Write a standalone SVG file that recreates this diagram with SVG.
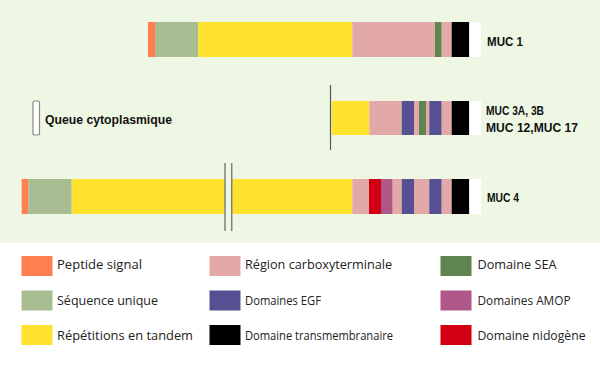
<svg xmlns="http://www.w3.org/2000/svg" width="600" height="366" viewBox="0 0 600 366">
<style>
.ps{fill:#FF7F4E}.su{fill:#A9BD93}.rt{fill:#FFE22E}.rc{fill:#E3A9A9}.sea{fill:#5F844F}.egf{fill:#545091}.amop{fill:#B0578A}.tm{fill:#000}.nid{fill:#D20012}.wh{fill:#FFFFFF}
.lbl{font-family:"Liberation Sans","Open Sans",sans-serif;font-weight:700;font-size:12px;fill:#111}
.leg{font-family:"Open Sans","Liberation Sans",sans-serif;font-size:13px;fill:#222}
.brk{stroke:#808080;stroke-width:1.5;fill:none}
</style>
<rect x="0" y="0" width="600" height="243" fill="#EEF7E3"/>
<rect x="0" y="243" width="600" height="123" fill="#FFFFFF"/>

<g id="muc1">
<rect class="ps" x="148" y="22" width="7" height="35"/>
<rect class="su" x="155" y="22" width="43.3" height="35"/>
<rect class="rt" x="198.3" y="22" width="154" height="35"/>
<rect class="rc" x="352.3" y="22" width="82.7" height="35"/>
<rect class="sea" x="435" y="22" width="6.7" height="35"/>
<rect class="rc" x="441.7" y="22" width="10" height="35"/>
<rect class="tm" x="451.7" y="22" width="17.6" height="35"/>
<rect class="wh" x="469.3" y="22" width="11.7" height="35"/>
<text class="lbl" x="487" y="46" textLength="36" lengthAdjust="spacingAndGlyphs">MUC 1</text>
</g>

<g id="queue">
<rect x="33" y="101" width="6.5" height="34" rx="2" fill="#FFFFFF" stroke="#8A8A8A" stroke-width="1.2"/>
<text class="lbl" x="45" y="124" textLength="127" lengthAdjust="spacingAndGlyphs">Queue cytoplasmique</text>
</g>

<g id="muc3">
<line x1="330.5" y1="85" x2="330.5" y2="150" stroke="#555" stroke-width="1.2"/>
<rect class="rt" x="331.7" y="101" width="37.6" height="34"/>
<rect class="rc" x="369.3" y="101" width="32.4" height="34"/>
<rect class="egf" x="401.7" y="101" width="12.3" height="34"/>
<rect class="rc" x="414" y="101" width="5" height="34"/>
<rect class="sea" x="419" y="101" width="7" height="34"/>
<rect class="rc" x="426" y="101" width="3.3" height="34"/>
<rect class="egf" x="429.3" y="101" width="12.4" height="34"/>
<rect class="rc" x="441.7" y="101" width="10" height="34"/>
<rect class="tm" x="451.7" y="101" width="17.6" height="34"/>
<rect class="wh" x="469.3" y="101" width="11.7" height="34"/>
<text class="lbl" x="486" y="115" textLength="58" lengthAdjust="spacingAndGlyphs">MUC 3A, 3B</text>
<text class="lbl" x="486" y="132" textLength="92" lengthAdjust="spacingAndGlyphs">MUC 12,MUC 17</text>
</g>

<g id="muc4">
<rect class="ps" x="21.7" y="179" width="6.6" height="35"/>
<rect class="su" x="28.3" y="179" width="43.4" height="35"/>
<rect class="rt" x="71.7" y="179" width="153.3" height="35"/>
<rect class="rt" x="231.7" y="179" width="120.6" height="35"/>
<rect class="rc" x="352.3" y="179" width="16.7" height="35"/>
<rect class="nid" x="369" y="179" width="12" height="35"/>
<rect class="amop" x="381" y="179" width="11.7" height="35"/>
<rect class="rc" x="392.7" y="179" width="9" height="35"/>
<rect class="egf" x="401.7" y="179" width="12.3" height="35"/>
<rect class="rc" x="414" y="179" width="15.3" height="35"/>
<rect class="egf" x="429.3" y="179" width="12.4" height="35"/>
<rect class="rc" x="441.7" y="179" width="10" height="35"/>
<rect class="tm" x="451.7" y="179" width="17.6" height="35"/>
<rect class="wh" x="469.3" y="179" width="11.7" height="35"/>
<line class="brk" x1="225" y1="163" x2="225" y2="231"/>
<line class="brk" x1="231.7" y1="163" x2="231.7" y2="231"/>
<text class="lbl" x="487" y="202" textLength="32" lengthAdjust="spacingAndGlyphs">MUC 4</text>
</g>

<g id="legend">
<g id="leg-ps"><rect class="ps" x="21.5" y="256" width="31" height="20"/><text class="leg" x="57" y="269" textLength="85" lengthAdjust="spacingAndGlyphs">Peptide signal</text></g>
<g id="leg-su"><rect class="su" x="21.5" y="290.5" width="31" height="20"/><text class="leg" x="57" y="304.5" textLength="101" lengthAdjust="spacingAndGlyphs">Séquence unique</text></g>
<g id="leg-rt"><rect class="rt" x="21.5" y="325" width="31" height="20"/><text class="leg" x="57" y="339.5" textLength="136" lengthAdjust="spacingAndGlyphs">Répétitions en tandem</text></g>
<g id="leg-rc"><rect class="rc" x="209.5" y="256" width="31" height="20"/><text class="leg" x="245" y="269" textLength="147" lengthAdjust="spacingAndGlyphs">Région carboxyterminale</text></g>
<g id="leg-egf"><rect class="egf" x="209.5" y="290.5" width="31" height="20"/><text class="leg" x="245" y="304.5" textLength="76" lengthAdjust="spacingAndGlyphs">Domaines EGF</text></g>
<g id="leg-tm"><rect class="tm" x="209.5" y="325" width="31" height="20"/><text class="leg" x="245" y="339.5" textLength="148" lengthAdjust="spacingAndGlyphs">Domaine transmembranaire</text></g>
<g id="leg-sea"><rect class="sea" x="440.5" y="256" width="31" height="20"/><text class="leg" x="477.5" y="269" textLength="79" lengthAdjust="spacingAndGlyphs">Domaine SEA</text></g>
<g id="leg-amop"><rect class="amop" x="440.5" y="290.5" width="31" height="20"/><text class="leg" x="477.5" y="304.5" textLength="93" lengthAdjust="spacingAndGlyphs">Domaines AMOP</text></g>
<g id="leg-nid"><rect class="nid" x="440.5" y="325" width="31" height="20"/><text class="leg" x="477.5" y="339.5" textLength="108" lengthAdjust="spacingAndGlyphs">Domaine nidogène</text></g>
</g>
</svg>
